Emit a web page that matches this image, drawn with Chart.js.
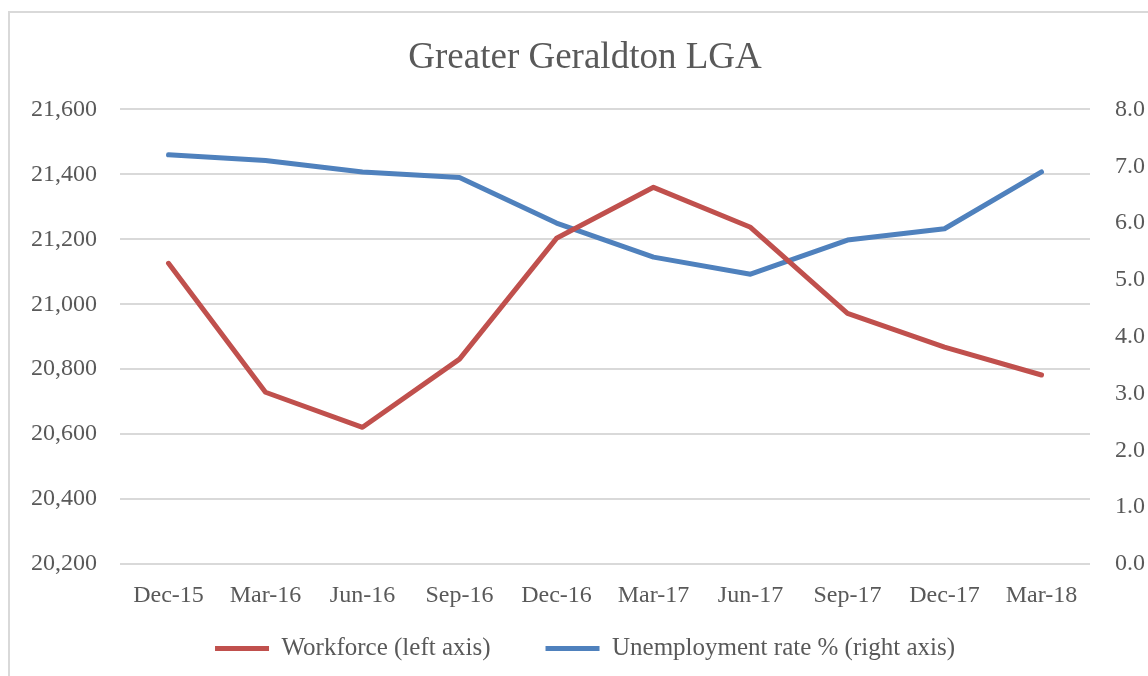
<!DOCTYPE html>
<html>
<head>
<meta charset="utf-8">
<script src="https://cdn.jsdelivr.net/npm/chart.js@4.4.1/dist/chart.umd.min.js"></script>
<style>
    html, body { margin: 0; padding: 0; background: #fff; overflow: hidden; }
    #frame {
        position: absolute; left: 8px; top: 11px;
        width: 1156px; height: 710px;
        border: 2px solid #d9d9d9;
        box-sizing: border-box;
    }
    #wrap {
        position: absolute; left: 9px; top: 12px;
        width: 1152px; height: 690px;
    }
</style>
</head>
<body>
<div id="frame"></div>
<div id="wrap"><canvas id="chart"></canvas></div>
<script>
const quarters = ['Dec-15', 'Mar-16', 'Jun-16', 'Sep-16', 'Dec-16', 'Mar-17', 'Jun-17', 'Sep-17', 'Dec-17', 'Mar-18'];
const workforce = [21126, 20729, 20621, 20831, 21203, 21360, 21237, 20972, 20868, 20782];
const unemploymentRate = [7.2, 7.1, 6.9, 6.8, 6.0, 5.4, 5.1, 5.7, 5.9, 6.9];
const leftTicks = [20200, 20400, 20600, 20800, 21000, 21200, 21400, 21600];
const rightTicks = [0, 1, 2, 3, 4, 5, 6, 7, 8];

document.addEventListener('DOMContentLoaded', function() {
    const textColor = '#595959';
    const gridColor = '#d9d9d9';
    const fontFamily = '"Liberation Serif", "Times New Roman", serif';

    Chart.defaults.font.family = fontFamily;
    Chart.defaults.color = textColor;

    // legend padding sets both the gap between items and its top offset,
    // so pull the legend back up after layout
    const legendLift = {
        id: 'legendLift',
        afterLayout: function(chart, args, opts) {
            if (!chart.legend) return;
            chart.legend.top -= opts.lift;
            chart.legend.bottom -= opts.lift;
        }
    };

    const ctx = document.getElementById('chart').getContext('2d');

    new Chart(ctx, {
        type: 'line',
        data: {
            labels: quarters,
            datasets: [
                {
                    label: 'Workforce (left axis)',
                    data: workforce,
                    yAxisID: 'yLeft',
                    borderColor: '#C0504D',
                    backgroundColor: '#C0504D',
                    borderWidth: 5,
                    borderCapStyle: 'round',
                    borderJoinStyle: 'round',
                    pointRadius: 0,
                    tension: 0
                },
                {
                    label: 'Unemployment rate % (right axis)',
                    data: unemploymentRate,
                    yAxisID: 'yRight',
                    borderColor: '#4F81BD',
                    backgroundColor: '#4F81BD',
                    borderWidth: 5,
                    borderCapStyle: 'round',
                    borderJoinStyle: 'round',
                    pointRadius: 0,
                    tension: 0
                }
            ]
        },
        plugins: [legendLift],
        options: {
            responsive: true,
            maintainAspectRatio: false,
            animation: false,
            layout: {
                padding: { left: 0, right: 0, top: 0, bottom: 0 }
            },
            plugins: {
                title: {
                    display: true,
                    text: 'Greater Geraldton LGA',
                    color: textColor,
                    font: { size: 37, weight: 'normal' },
                    padding: { top: 24, bottom: 29 }
                },
                legend: {
                    display: true,
                    position: 'bottom',
                    labels: {
                        usePointStyle: true,
                        pointStyle: 'line',
                        pointStyleWidth: 54,
                        color: textColor,
                        font: { size: 25 },
                        padding: 55
                    }
                },
                legendLift: { lift: 31 },
                tooltip: { enabled: false }
            },
            scales: {
                x: {
                    offset: true,
                    grid: { display: false, drawTicks: false },
                    border: { display: false },
                    afterFit: function(scale) { scale.height = 48; },
                    ticks: {
                        color: textColor,
                        font: { size: 24 },
                        padding: 17,
                        maxRotation: 0,
                        autoSkip: false
                    }
                },
                yLeft: {
                    position: 'left',
                    min: leftTicks[0],
                    max: leftTicks[leftTicks.length - 1],
                    afterBuildTicks: function(scale) {
                        scale.ticks = leftTicks.map(v => ({ value: v }));
                    },
                    afterFit: function(scale) { scale.width = 111; },
                    grid: { color: gridColor, lineWidth: 2, drawTicks: false },
                    border: { display: false },
                    ticks: {
                        color: textColor,
                        font: { size: 24 },
                        padding: 23,
                        callback: function(value) {
                            return Number(value).toLocaleString('en-US');
                        }
                    }
                },
                yRight: {
                    position: 'right',
                    min: rightTicks[0],
                    max: rightTicks[rightTicks.length - 1],
                    afterBuildTicks: function(scale) {
                        scale.ticks = rightTicks.map(v => ({ value: v }));
                    },
                    afterFit: function(scale) { scale.width = 71; },
                    grid: { display: false, drawTicks: false },
                    border: { display: false },
                    ticks: {
                        color: textColor,
                        font: { size: 24 },
                        padding: 25,
                        callback: function(value) {
                            return Number(value).toFixed(1);
                        }
                    }
                }
            }
        }
    });
});
</script>
</body>
</html>
